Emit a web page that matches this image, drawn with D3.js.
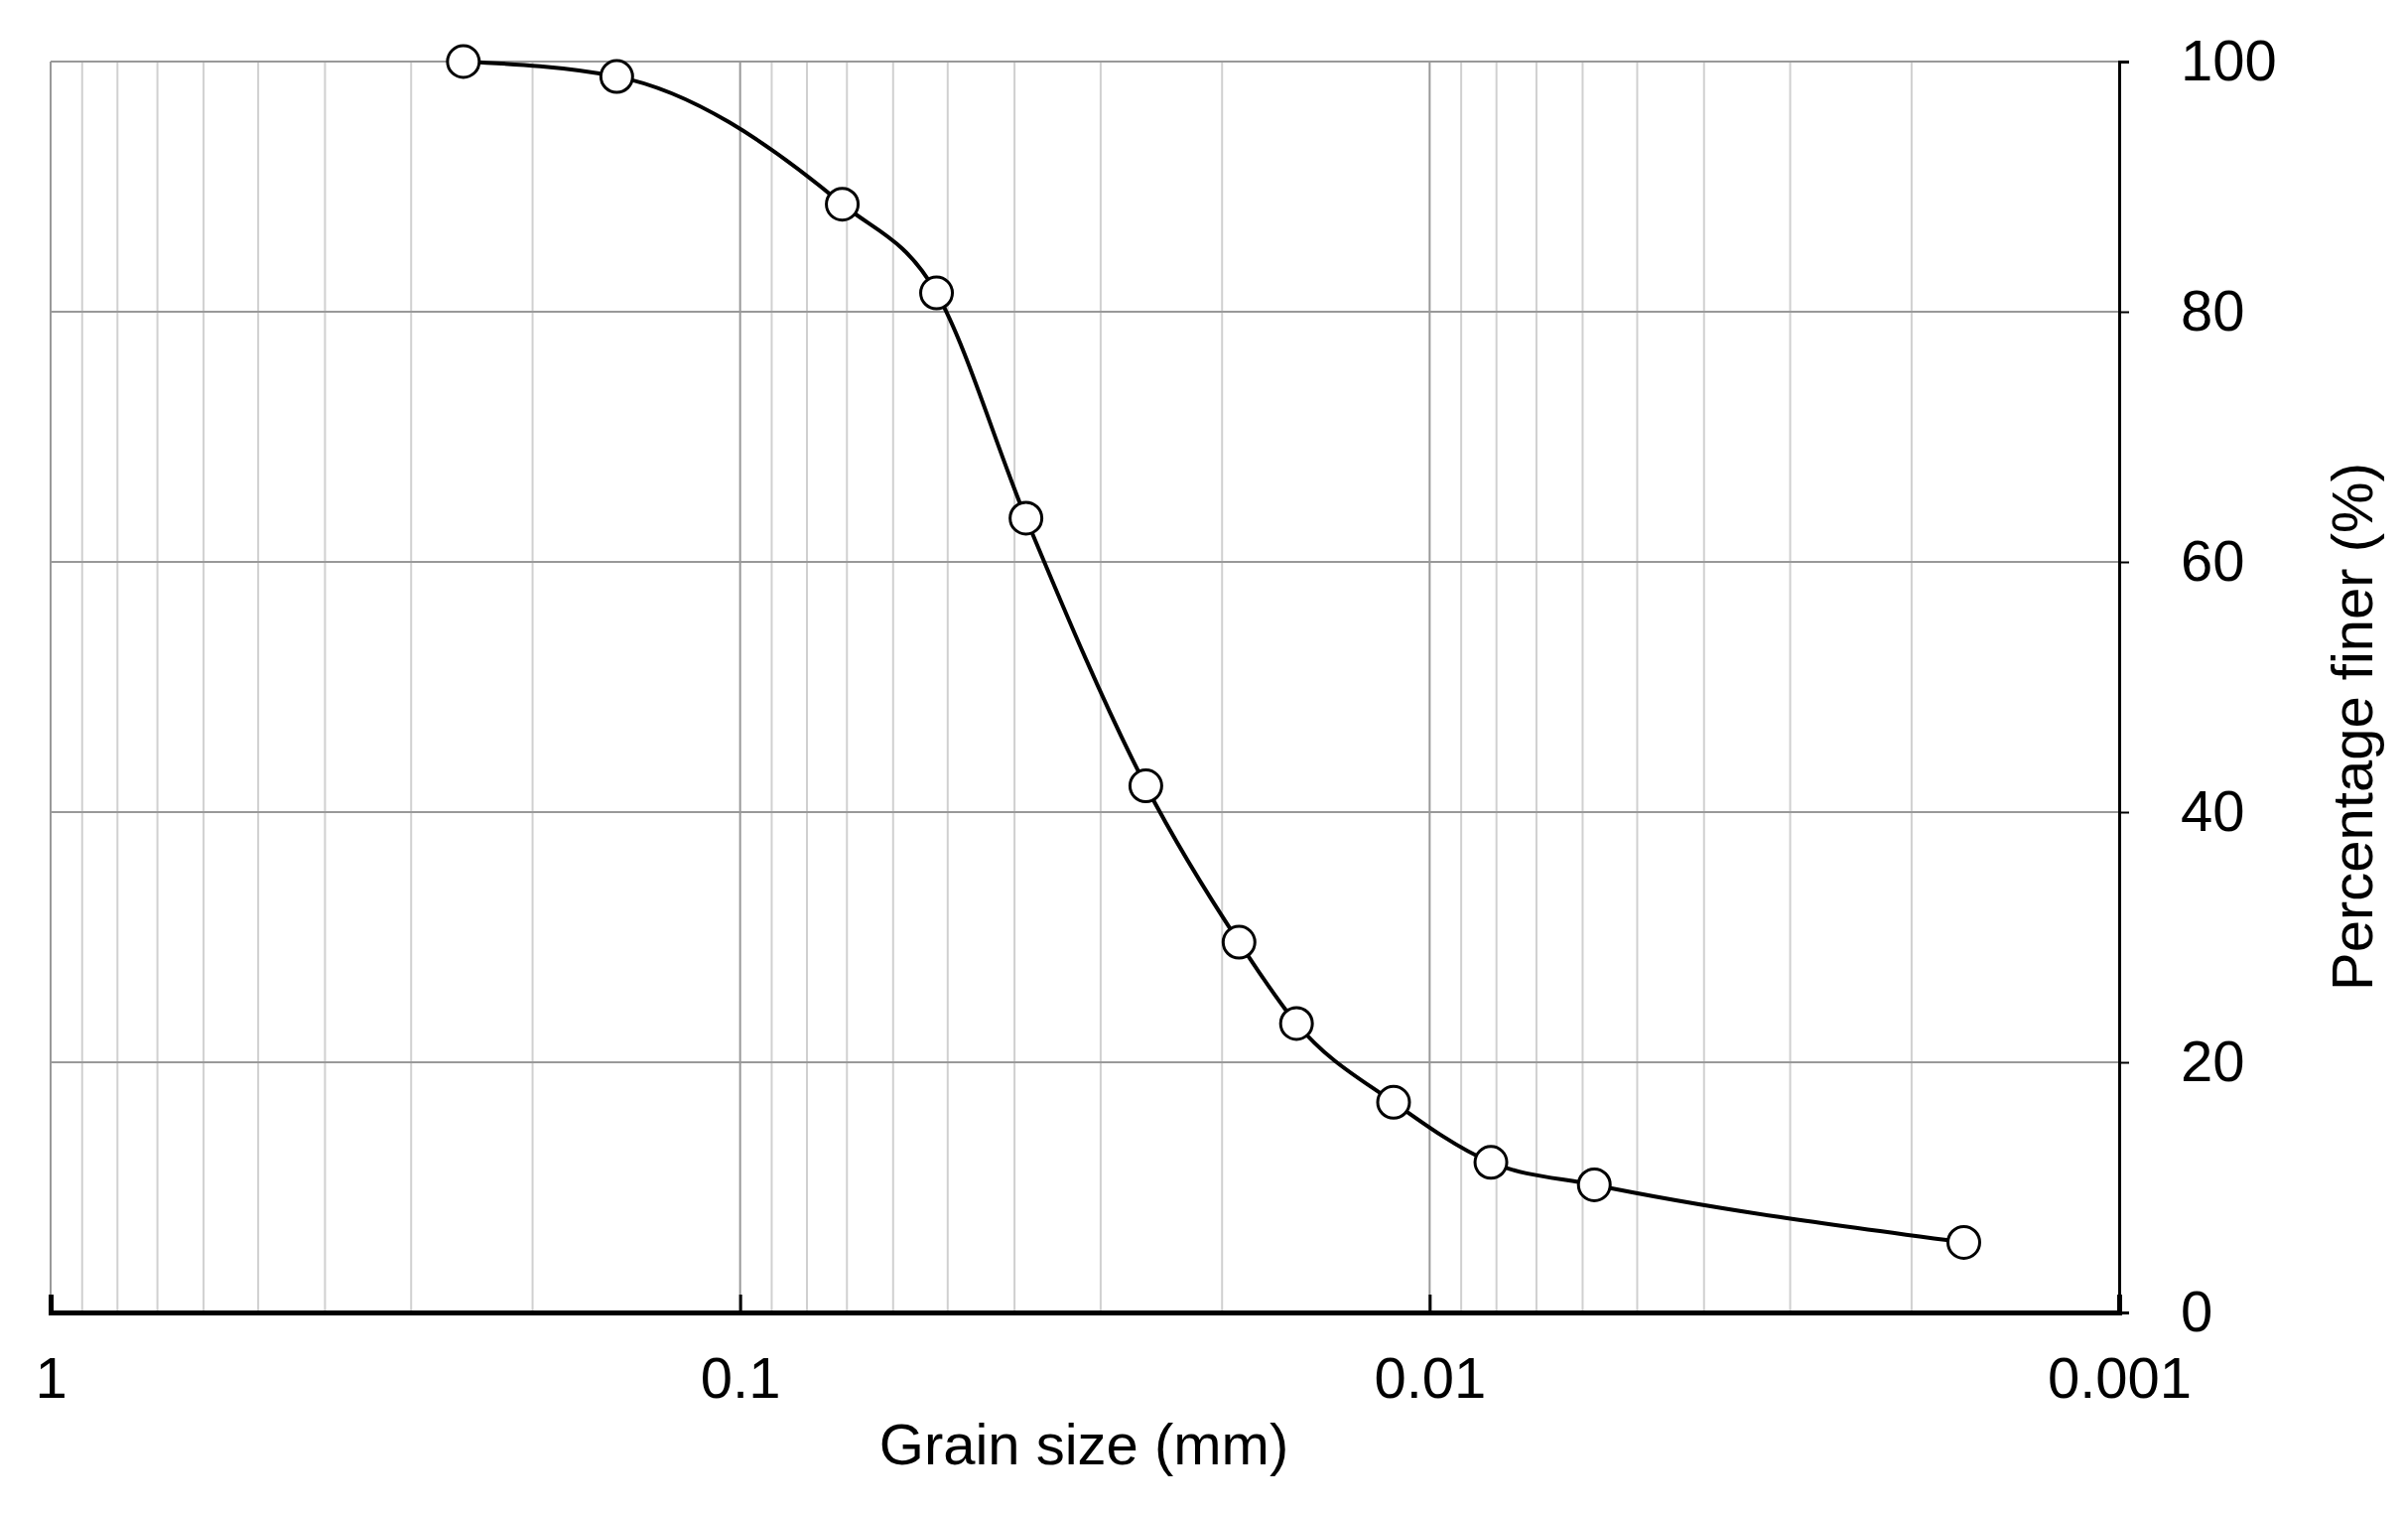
<!DOCTYPE html>
<html lang="en">
<head>
<meta charset="UTF-8">
<script src="https://d3js.org/d3.v7.min.js"></script>
<style>
  body { margin: 0; background: #fff; }
  text { font-family: "Liberation Sans", Arial, sans-serif; fill: #000; }
</style>
</head>
<body>
<svg width="2426" height="1524"></svg>
<script>
// grain size (mm) and percentage finer
const grainSize = [0.252, 0.151, 0.0711, 0.0519, 0.0385, 0.0258, 0.0189, 0.0156, 0.01128, 0.00815, 0.00577, 0.00168];
const percentFiner = [100, 98.8, 88.6, 81.5, 63.5, 42.1, 29.6, 23.1, 16.8, 12.0, 10.2, 5.6];
const xTicks = [1, 0.1, 0.01, 0.001];
const yTicks = [0, 20, 40, 60, 80, 100];

const svg = d3.select("svg");
const mLeft = 51, mRight = 2135, mTop = 62, mBottom = 1322;

const x = d3.scaleLog().domain([1, 0.001]).range([mLeft, mRight]);
const y = d3.scaleLinear().domain([0, 100]).range([mBottom, mTop]);

// minor vertical grid
const minor = [];
[1, 0.1, 0.01].forEach(dec => { for (let k = 2; k <= 9; k++) minor.push(dec / 10 * k); });
svg.append("g").selectAll("line").data(minor).enter().append("line")
  .attr("x1", d => x(d)).attr("x2", d => x(d)).attr("y1", mTop).attr("y2", mBottom)
  .attr("stroke", "#d0d0d0").attr("stroke-width", 2);

// major vertical grid
svg.append("g").selectAll("line").data([0.1, 0.01]).enter().append("line")
  .attr("x1", d => x(d)).attr("x2", d => x(d)).attr("y1", mTop).attr("y2", mBottom)
  .attr("stroke", "#999").attr("stroke-width", 2);

// horizontal grid
svg.append("g").selectAll("line").data([20, 40, 60, 80, 100]).enter().append("line")
  .attr("x1", mLeft).attr("x2", mRight).attr("y1", d => y(d)).attr("y2", d => y(d))
  .attr("stroke", "#999").attr("stroke-width", 2);

// left border
svg.append("line").attr("x1", mLeft).attr("x2", mLeft).attr("y1", mTop).attr("y2", mBottom)
  .attr("stroke", "#999").attr("stroke-width", 2);

// right axis
const yAxis = d3.axisRight(y).tickValues(yTicks).tickSize(10);
const gy = svg.append("g").attr("transform", `translate(${mRight},0)`).call(yAxis);
gy.select(".domain").attr("stroke", "#000").attr("stroke-width", 3);
gy.selectAll(".tick line").attr("stroke", "#000").attr("stroke-width", 2);
gy.selectAll(".tick text").style("font-size", "58px").attr("text-anchor", "start").attr("x", 62);

// bottom axis
const xAxis = d3.axisBottom(x).tickValues(xTicks).tickFormat(d => String(d)).tickSize(-18).tickPadding(45);
const gx = svg.append("g").attr("transform", `translate(0,${mBottom})`).call(xAxis);
gx.select(".domain").attr("stroke", "#000").attr("stroke-width", 5);
gx.selectAll(".tick line").attr("stroke", "#000").attr("stroke-width", 3);
gx.selectAll(".tick text").style("font-size", "58px");

// axis titles
svg.append("text").attr("x", 1092).attr("y", 1475).attr("text-anchor", "middle")
  .style("font-size", "58px").text("Grain size (mm)");
svg.append("text").attr("transform", `translate(2390,${(mTop + mBottom) / 2 + 40}) rotate(-90)`)
  .attr("text-anchor", "middle").style("font-size", "58px").text("Percentage finer (%)");

// curve
const pts = grainSize.map((g, i) => [x(g), y(percentFiner[i])]);
svg.append("path").datum(pts)
  .attr("d", d3.line().curve(d3.curveMonotoneX))
  .attr("fill", "none").attr("stroke", "#000").attr("stroke-width", 4);

svg.append("g").selectAll("circle").data(pts).enter().append("circle")
  .attr("cx", d => d[0]).attr("cy", d => d[1]).attr("r", 16)
  .attr("fill", "#fff").attr("stroke", "#000").attr("stroke-width", 3);
</script>
</body>
</html>
